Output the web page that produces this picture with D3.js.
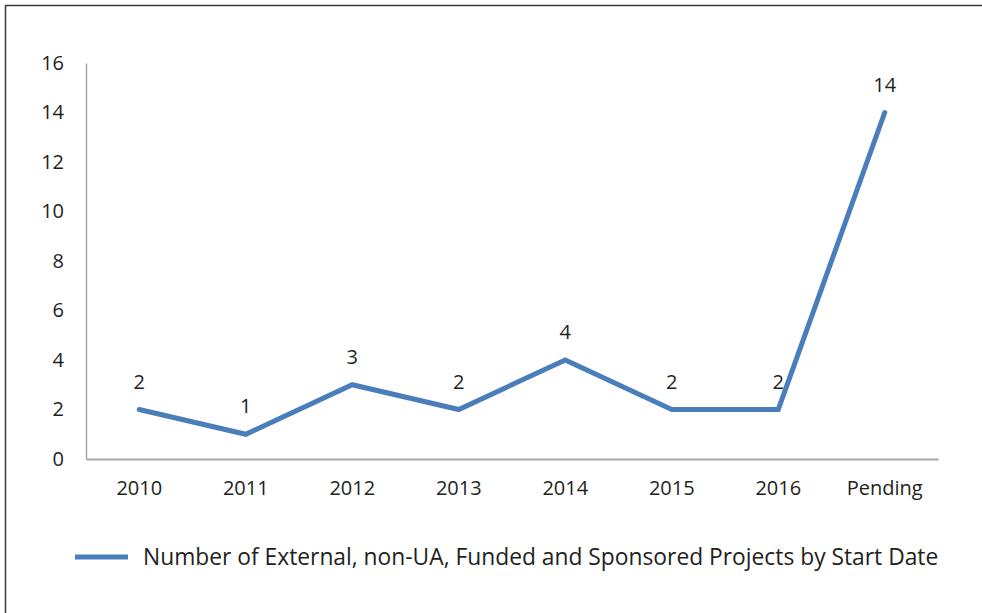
<!DOCTYPE html>
<html>
<head>
<meta charset="utf-8">
<script src="https://cdn.jsdelivr.net/npm/d3@7"></script>
<style>
  body { margin: 0; background: #fff; }
  svg text { font-family: "Open Sans", sans-serif; fill: #231f20; }
</style>
</head>
<body>
<div id="chart"></div>
<script>
// chart data
const categories = ["2010", "2011", "2012", "2013", "2014", "2015", "2016", "Pending"];
const projects = [2, 1, 3, 2, 4, 2, 2, 14];
const yTicks = [0, 2, 4, 6, 8, 10, 12, 14, 16];
const seriesName = "Number of External, non-UA, Funded and Sponsored Projects by Start Date";

const width = 982, height = 613;
const margin = { left: 86, right: 44, top: 63, bottom: 154 };

const svg = d3.select("#chart").append("svg")
	.attr("width", width)
	.attr("height", height);

// outer frame (right and bottom edges fall outside the picture)
svg.append("rect")
	.attr("x", 5.5).attr("y", 5.5)
	.attr("width", width + 10).attr("height", height + 10)
	.attr("fill", "none")
	.attr("stroke", "#3a3a3a")
	.attr("stroke-width", 1.5);

const x = d3.scaleBand()
	.domain(categories)
	.range([margin.left, width - margin.right]);

const y = d3.scaleLinear()
	.domain([0, 16])
	.range([height - margin.bottom, margin.top]);

// y axis
const yAxis = svg.append("g")
	.attr("transform", `translate(${margin.left},0)`)
	.call(d3.axisLeft(y).tickValues(yTicks).tickSize(0).tickPadding(22));
yAxis.select(".domain").attr("stroke", "#a6a6a6").attr("stroke-width", 1.5);
yAxis.selectAll("text").style("font-size", "20px").attr("fill", "#231f20");

// x axis
const xAxis = svg.append("g")
	.attr("transform", `translate(0,${y(0)})`)
	.call(d3.axisBottom(x).tickSize(0).tickPadding(22));
xAxis.select(".domain").attr("stroke", "#a6a6a6").attr("stroke-width", 2);
xAxis.selectAll("text").style("font-size", "20px").attr("fill", "#231f20");

// line
const line = d3.line()
	.x((d, i) => x(categories[i]) + x.bandwidth() / 2)
	.y(d => y(d));

svg.append("path")
	.datum(projects)
	.attr("d", line)
	.attr("fill", "none")
	.attr("stroke", "#4a7ebb")
	.attr("stroke-width", 5)
	.attr("stroke-linejoin", "miter")
	.attr("stroke-linecap", "round");

// value labels
svg.selectAll(".val")
	.data(projects)
	.join("text")
	.attr("class", "val")
	.attr("x", (d, i) => x(categories[i]) + x.bandwidth() / 2)
	.attr("y", d => y(d) - 21)
	.attr("text-anchor", "middle")
	.style("font-size", "20px")
	.text(d => d);

// legend
const legend = svg.append("g").attr("transform", "translate(75,557)");
legend.append("line")
	.attr("x1", 0).attr("x2", 53)
	.attr("stroke", "#4a7ebb")
	.attr("stroke-width", 5);
legend.append("text")
	.attr("x", 68).attr("y", 8)
	.style("font-size", "22.8px")
	.text(seriesName);
</script>
</body>
</html>
